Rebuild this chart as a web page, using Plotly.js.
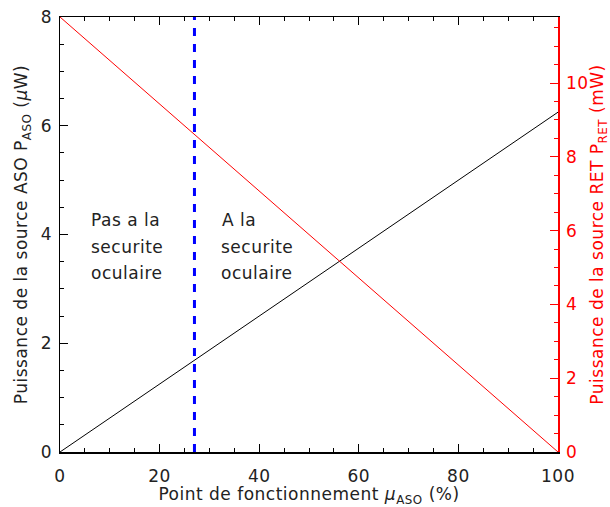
<!DOCTYPE html>
<html><head><meta charset="utf-8">
<script src="https://cdn.plot.ly/plotly-3.0.1.min.js"></script>
<style>body{margin:0;background:#fff} #chart text{letter-spacing:0.5px}</style>
</head><body>
<div id="chart" style="width:610px;height:507px"></div>
<script>
// Data
const muASO = [0, 100];                 // operating point (%)
const pASO = [0, 6.25];                 // ASO source power (µW), left axis
const pRET = [11.79, 0];                // RET source power (mW), right axis
const thresholdMu = 27;                 // eye-safety threshold (%)
const thresholdY = [0, 8];
const leftTicks = [0, 2, 4, 6, 8];
const rightTicks = [0, 2, 4, 6, 8, 10];
const xTicks = [0, 20, 40, 60, 80, 100];
const unsafeLines = ['Pas a la', 'securite', 'oculaire'];
const safeLines = ['A la', 'securite', 'oculaire'];
const labelX = [6.2, 32.3];
const labelY = [4.26, 3.77, 3.29];

const font = "DejaVu Sans, sans-serif";
const traces = [
  {x: muASO, y: pASO, mode: 'lines', line: {color: '#000', width: 1}, yaxis: 'y', hoverinfo: 'skip'},
  {x: muASO, y: pRET, mode: 'lines', line: {color: '#ff0000', width: 1}, yaxis: 'y2', hoverinfo: 'skip'},
  {x: [thresholdMu, thresholdMu], y: thresholdY, mode: 'lines', line: {color: '#0000ff', width: 3, dash: '8px,8px'}, yaxis: 'y', hoverinfo: 'skip'}
];

const annotations = [];
[unsafeLines, safeLines].forEach((lines, k) => {
  lines.forEach((t, i) => annotations.push({
    x: labelX[k], y: labelY[i], xref: 'x', yref: 'y', xanchor: 'left', yanchor: 'middle',
    showarrow: false, text: t, font: {size: 17, color: '#222'}
  }));
});

const layout = {
  width: 610, height: 507,
  margin: {l: 60, r: 52, t: 17, b: 55},
  showlegend: false,
  paper_bgcolor: '#fff', plot_bgcolor: '#fff',
  font: {family: font, size: 16, color: '#222'},
  xaxis: {
    range: [0, 100], tickvals: xTicks, ticktext: xTicks.map(String),
    showgrid: false, zeroline: false, showline: true, linecolor: '#000', linewidth: 1.5,
    mirror: 'ticks', ticks: 'inside', ticklen: 8, tickcolor: '#000', tickwidth: 1,
    minor: {dtick: 5, ticks: 'inside', ticklen: 4, tickcolor: '#000', showgrid: false},
    tickfont: {size: 17, color: '#222'}, ticklabelstandoff: 8,
    title: {text: 'Point de fonctionnement <i>μ</i><sub>ASO</sub> (%)', font: {size: 17, color: '#222'}, standoff: 12}
  },
  yaxis: {
    range: [0, 8], tickvals: leftTicks, ticktext: leftTicks.map(String),
    showgrid: false, zeroline: false, showline: true, linecolor: '#000', linewidth: 1.5,
    ticks: 'inside', ticklen: 8, tickcolor: '#000',
    minor: {dtick: 0.5, ticks: 'inside', ticklen: 4, tickcolor: '#000', showgrid: false},
    tickfont: {size: 17, color: '#222'}, ticklabelstandoff: 3,
    title: {text: 'Puissance de la source ASO P<sub>ASO</sub> (<i>μ</i>W)', font: {size: 17, color: '#222'}, standoff: 9}
  },
  yaxis2: {
    overlaying: 'y', side: 'right', range: [0, 11.79],
    tickvals: rightTicks, ticktext: rightTicks.map(String),
    showgrid: false, zeroline: false, showline: true, linecolor: '#ff0000', linewidth: 1.5,
    ticks: 'inside', ticklen: 8, tickcolor: '#ff0000',
    minor: {dtick: 0.5, ticks: 'inside', ticklen: 4, tickcolor: '#ff0000', showgrid: false},
    tickfont: {size: 17, color: '#ff0000'}, ticklabelstandoff: 3,
    title: {text: 'Puissance de la source RET P<sub>RET</sub> (mW)', font: {size: 17, color: '#ff0000'}, standoff: 4}
  },
  annotations: annotations
};

Plotly.newPlot('chart', traces, layout, {displayModeBar: false, staticPlot: true});
</script>
</body></html>
